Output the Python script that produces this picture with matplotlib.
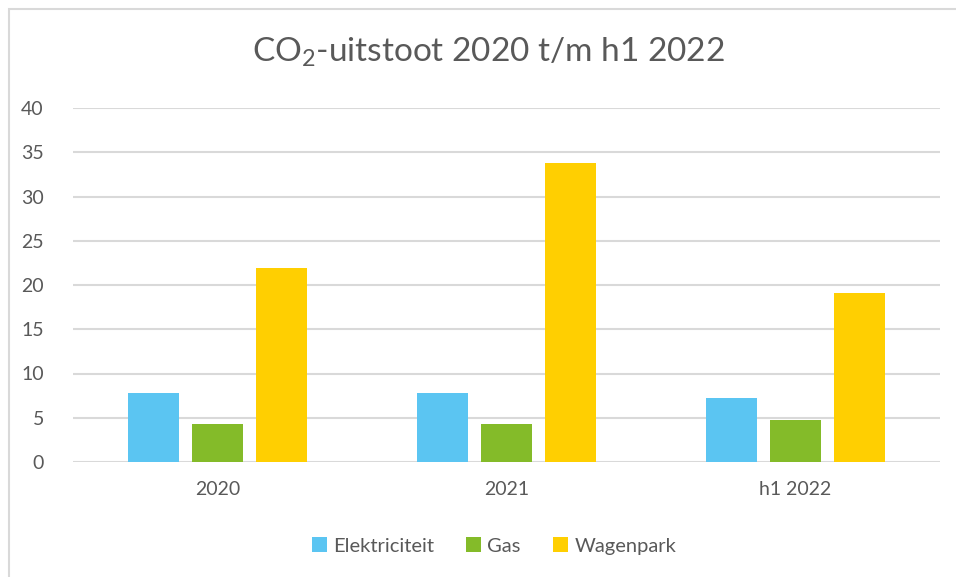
import matplotlib
matplotlib.use("Agg")
import matplotlib.pyplot as plt
import numpy as np
from matplotlib.patches import Rectangle

categories = ["2020", "2021", "h1 2022"]
series = ["Elektriciteit", "Gas", "Wagenpark"]
elektriciteit = [7.76, 7.76, 7.27]
gas = [4.29, 4.29, 4.75]
wagenpark = [21.9, 33.8, 19.1]
yticks = [0, 5, 10, 15, 20, 25, 30, 35, 40]

colors = ["#5BC5F2", "#84BB29", "#FFCF01"]
text_col = "#595959"
grid_col = "#D9D9D9"

plt.rcParams["font.family"] = ["Lato", "DejaVu Sans"]
plt.rcParams["mathtext.fontset"] = "custom"
plt.rcParams["mathtext.rm"] = "Lato"
plt.rcParams["mathtext.default"] = "regular"

fig = plt.figure(figsize=(9.56, 5.77), dpi=100)
W, H = 956, 577
ax = fig.add_axes([73 / W, 1 - 462 / H, (940 - 73) / W, (462 - 108) / H])

# chart border (only left and top visible in the crop)
fig.patches.append(Rectangle((9 / W, -0.1), 1.2, 1 - 9 / H + 0.1,
                             transform=fig.transFigure, fill=False,
                             edgecolor=grid_col, lw=1.5))

x = np.arange(len(categories))
bw, step = 0.176, 0.221
for i, (name, vals) in enumerate(zip(series, [elektriciteit, gas, wagenpark])):
    ax.bar(x + (i - 1) * step, vals, bw, color=colors[i], label=name, zorder=3)

ax.set_xlim(-0.5, len(categories) - 0.5)
ax.set_ylim(0, 40)
ax.set_yticks(yticks)
ax.set_xticks(x)
ax.set_xticklabels(categories)
ax.yaxis.grid(True, color=grid_col, lw=1.5, zorder=0)
ax.tick_params(length=0, labelsize=14, colors=text_col)
ax.tick_params(axis="y", pad=21)
ax.tick_params(axis="x", pad=14)
for s in ax.spines.values():
    s.set_visible(False)

fig.text(488 / W, 1 - 52 / H, "CO$_2$-uitstoot 2020 t/m h1 2022", ha="center",
         va="center", fontsize=24, color=text_col)

fig.legend(loc="center", bbox_to_anchor=(494 / W, 1 - 546 / H), ncol=3,
           frameon=False, fontsize=14.5, labelcolor=text_col, handlelength=0.75,
           handleheight=0.75, handletextpad=0.3, columnspacing=1.6)

fig.savefig("out.png", dpi=100)
